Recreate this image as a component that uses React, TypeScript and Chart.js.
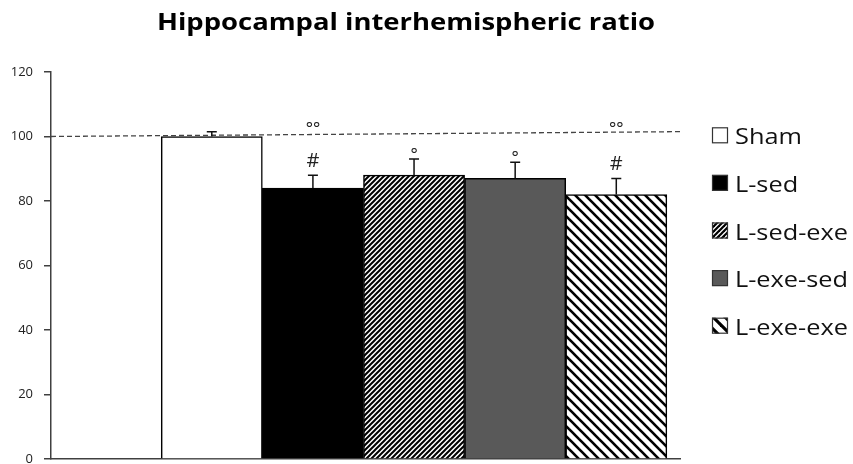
import { useEffect, useRef } from 'react';
import { Chart, registerables } from 'chart.js';

Chart.register(...registerables);

const TITLE = 'Hippocampal interhemispheric ratio';
const groups = ['Sham', 'L-sed', 'L-sed-exe', 'L-exe-sed', 'L-exe-exe'];
const means = [100, 84, 88, 87, 82];
const errors = [1.5, 4, 5, 5, 5];
const sigNear = ['', '#', '°', '°', '#'];
const sigTop = ['', '°°', '', '', '°°'];
const sigTopLevel = 104.5;
const refLine = [100, 101.5];
const yMin = 0;
const yMax = 120;
const yStep = 20;

const X_MIN = -1.09;
const X_MAX = 5.13;

function stripePattern(size: number, lw: number, dir: 'fwd' | 'back'): CanvasPattern | string {
  const c = document.createElement('canvas');
  c.width = size;
  c.height = size;
  const ctx = c.getContext('2d');
  if (!ctx) return '#fff';
  ctx.fillStyle = '#fff';
  ctx.fillRect(0, 0, size, size);
  ctx.strokeStyle = '#000';
  ctx.lineWidth = lw;
  ctx.lineCap = 'square';
  for (const o of [-size, 0, size]) {
    ctx.beginPath();
    if (dir === 'fwd') {
      ctx.moveTo(o, size);
      ctx.lineTo(o + size, 0);
    } else {
      ctx.moveTo(o, 0);
      ctx.lineTo(o + size, size);
    }
    ctx.stroke();
  }
  const p = ctx.createPattern(c, 'repeat');
  return p || '#fff';
}

const FONT = '"Open Sans", Lato, sans-serif';

function drawStretched(
  ctx: CanvasRenderingContext2D,
  text: string,
  x: number,
  y: number,
  sx: number,
  align: CanvasTextAlign
) {
  ctx.save();
  ctx.translate(x, y);
  ctx.scale(sx, 1);
  ctx.textAlign = align;
  ctx.fillText(text, 0, 0);
  ctx.restore();
}

export default function App() {
  const ref = useRef<HTMLCanvasElement | null>(null);

  useEffect(() => {
    if (!ref.current) return;
    const fills: (CanvasPattern | string)[] = [
      '#ffffff',
      '#000000',
      stripePattern(5, 2, 'fwd'),
      '#595959',
      stripePattern(10, 2.6, 'back'),
    ];
    const legendFills: (CanvasPattern | string)[] = [
      '#ffffff',
      '#000000',
      stripePattern(5, 2.2, 'fwd'),
      '#595959',
      stripePattern(12, 3.2, 'back'),
    ];

    const overlay = {
      id: 'overlay',
      afterDatasetsDraw(chart: any) {
        const ctx = chart.ctx as CanvasRenderingContext2D;
        const xs = chart.scales.x;
        const ys = chart.scales.y;
        ctx.save();
        ctx.strokeStyle = '#111';
        ctx.lineWidth = 1.5;
        means.forEach((m, i) => {
          const x = xs.getPixelForValue(i + 0.5);
          const y0 = ys.getPixelForValue(m);
          const y1 = ys.getPixelForValue(m + errors[i]);
          ctx.beginPath();
          ctx.moveTo(x, y0);
          ctx.lineTo(x, y1);
          ctx.moveTo(x - 5, y1);
          ctx.lineTo(x + 5, y1);
          ctx.stroke();
        });
        ctx.fillStyle = '#222';
        ctx.textAlign = 'center';
        ctx.textBaseline = 'alphabetic';
        sigNear.forEach((s, i) => {
          if (!s) return;
          const x = xs.getPixelForValue(i + 0.5);
          const y1 = ys.getPixelForValue(means[i] + errors[i]);
          if (s === '#') {
            ctx.font = `20px ${FONT}`;
            ctx.fillText(s, x, y1 - 8);
          } else {
            ctx.font = `17px ${FONT}`;
            ctx.fillText(s, x, y1 + 1);
          }
        });
        ctx.font = `17px ${FONT}`;
        sigTop.forEach((s, i) => {
          if (!s) return;
          const x = xs.getPixelForValue(i + 0.5);
          ctx.fillText(s, x, ys.getPixelForValue(sigTopLevel) + 12);
        });
        ctx.restore();
      },
      afterDraw(chart: any) {
        const ctx = chart.ctx as CanvasRenderingContext2D;
        ctx.save();
        ctx.fillStyle = '#000';
        ctx.textBaseline = 'alphabetic';
        ctx.font = `bold 24px ${FONT}`;
        const tw = ctx.measureText(TITLE).width;
        drawStretched(ctx, TITLE, 406, 30, 498 / tw, 'center');

        ctx.font = `21px ${FONT}`;
        const lw = ctx.measureText('L-sed-exe').width;
        const lsx = 113 / lw;
        groups.forEach((g, i) => {
          const cy = 135.3 + i * 47.6;
          ctx.fillStyle = legendFills[i] as any;
          ctx.fillRect(712, cy - 8, 16, 16);
          ctx.strokeStyle = '#333';
          ctx.lineWidth = 1.2;
          ctx.strokeRect(712.5, cy - 7.5, 15, 15);
          ctx.fillStyle = '#111';
          drawStretched(ctx, g, 735, cy + 9, lsx, 'left');
        });
        ctx.restore();
      },
    };

    const chart = new Chart(ref.current, {
      type: 'bar',
      data: {
        datasets: [
          {
            type: 'line',
            data: [
              { x: X_MIN, y: refLine[0] },
              { x: X_MAX, y: refLine[1] },
            ],
            borderColor: '#444',
            borderWidth: 1.3,
            borderDash: [5, 3],
            pointRadius: 0,
            order: 0,
          } as any,
          {
            type: 'bar',
            data: means.map((m, i) => ({ x: i + 0.5, y: m })),
            backgroundColor: fills as any,
            borderColor: '#000',
            borderWidth: 1.5,
            barPercentage: 1,
            categoryPercentage: 1,
            order: 1,
          } as any,
        ],
      },
      options: {
        animation: false,
        responsive: false,
        events: [],
        layout: { padding: { left: 0, top: 72, right: 173, bottom: 5 } },
        plugins: {
          legend: { display: false },
          title: { display: false },
          tooltip: { enabled: false },
        },
        scales: {
          x: {
            type: 'linear',
            offset: false,
            min: X_MIN,
            max: X_MAX,
            ticks: { display: false },
            grid: { display: false, drawTicks: false },
            border: { display: true, color: '#404040', width: 1.5 },
            afterFit: (s: any) => {
              s.height = 0;
              s.paddingLeft = 0;
              s.paddingRight = 0;
            },
          },
          y: {
            min: yMin,
            max: yMax,
            ticks: {
              stepSize: yStep,
              color: '#222',
              padding: 11,
              font: { family: FONT, size: 13 },
            },
            grid: {
              drawOnChartArea: false,
              drawTicks: true,
              tickLength: 7,
              color: '#404040',
              lineWidth: 1.5,
            },
            border: { display: true, color: '#404040', width: 1.5 },
            afterFit: (s: any) => {
              s.width = 51;
              s.paddingTop = 0;
              s.paddingBottom = 0;
            },
          },
        },
      },
      plugins: [overlay],
    } as any);

    return () => chart.destroy();
  }, []);

  return (
    <div style={{ position: 'fixed', left: 0, top: 0, width: 853, height: 464, background: '#fff' }}>
      <canvas ref={ref} width={853} height={464} style={{ display: 'block' }} />
    </div>
  );
}
